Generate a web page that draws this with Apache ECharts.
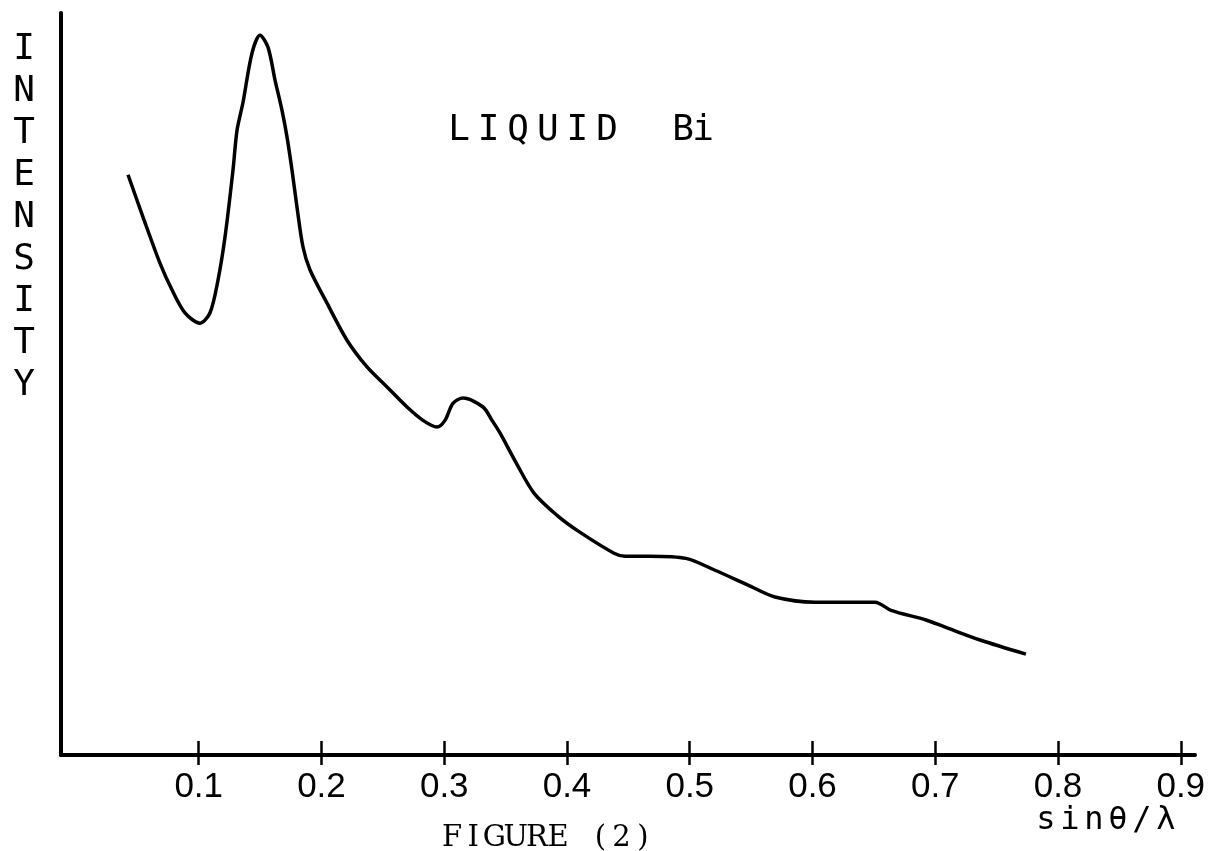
<!DOCTYPE html>
<html>
<head>
<meta charset="utf-8">
<title>LIQUID Bi</title>
<script src="https://cdn.jsdelivr.net/npm/echarts@6/dist/echarts.min.js"></script>
<style>
  html, body { margin: 0; padding: 0; background: #fff; }
  #chart { width: 1212px; height: 851px; }
</style>
</head>
<body>
<div id="chart"></div>
<script>
// Scattered intensity of liquid bismuth against sinθ/λ (arbitrary intensity units)
const sinThetaOverLambda = [
  0.0424, 0.0546, 0.0684, 0.0782, 0.0888, 0.1010, 0.1092, 0.1157, 0.1214, 0.1279,
  0.1312, 0.1360, 0.1434, 0.1499, 0.1564, 0.1621, 0.1678, 0.1719, 0.1760, 0.1800,
  0.1849, 0.1906, 0.2045, 0.2208, 0.2371, 0.2534, 0.2697, 0.2827, 0.2941, 0.3006,
  0.3071, 0.3153, 0.3316, 0.3389, 0.3454, 0.3585, 0.3731, 0.3919, 0.4098, 0.4383,
  0.4473, 0.4676, 0.4969, 0.5206, 0.5475, 0.5694, 0.6020, 0.6509, 0.6640, 0.6925,
  0.7071, 0.7365, 0.7739
];
const intensity = [
  78.2, 72.5, 66.3, 62.7, 59.6, 58.2, 59.6, 64.0, 69.8, 78.8,
  84.2, 87.9, 94.6, 97.0, 95.4, 91.0, 86.9, 83.3, 78.8, 73.9,
  68.5, 65.4, 60.9, 55.9, 52.3, 49.6, 46.9, 45.1, 44.2, 45.1,
  47.4, 48.1, 46.9, 45.1, 43.4, 39.4, 35.3, 32.3, 30.1, 27.2,
  26.8, 26.8, 26.5, 24.9, 22.9, 21.3, 20.6, 20.6, 19.5, 18.2,
  17.3, 15.5, 13.6
];
const xTickValues = [0.1, 0.2, 0.3, 0.4, 0.5, 0.6, 0.7, 0.8, 0.9];
const xRange = [-0.0122, 0.9116];
const yRange = [0, 100];

const title = 'LIQUID Bi';
const yName = 'INTENSITY';
const xName = 'sinθ/λ';
const caption = 'FIGURE (2)';

const plotterFont = '"DejaVu Sans Mono", "Liberation Mono", monospace';
const typewriterFont = '"DejaVu Serif", "Liberation Serif", serif';

// Lay a string out one glyph at a time with an even pitch (plotter lettering)
function letters(str, x, y, pitch, fontSize, vertical, family) {
  const out = [];
  str.split('').forEach((ch, i) => {
    if (ch === ' ') return;
    out.push({
      type: 'text',
      silent: true,
      x: vertical ? x : x + i * pitch,
      y: vertical ? y + i * pitch : y,
      style: {
        text: ch,
        fill: '#000',
        fontSize: fontSize,
        fontFamily: family || plotterFont,
        align: 'center',
        verticalAlign: 'middle'
      }
    });
  });
  return out;
}

const words = title.split(' ');
const graphics = []
  .concat(letters(words[0], 459, 131, 29.6, 36, false))
  .concat(letters(words[1], 683, 131, 20, 36, false))
  .concat(letters(yName, 24, 50, 42, 36, true))
  .concat(letters(xName, 1046, 821, 24, 32, false))
  .concat(letters(caption, 452, 838, 21.2, 29, false, typewriterFont));

const chart = echarts.init(document.getElementById('chart'), null, { renderer: 'canvas' });

const baseX = {
  type: 'value',
  min: xRange[0],
  max: xRange[1],
  position: 'bottom',
  splitLine: { show: false }
};

chart.setOption({
  animation: false,
  backgroundColor: '#fff',
  grid: { left: 61, right: 17, top: 13, bottom: 96, containLabel: false },
  xAxis: [
    Object.assign({}, baseX, {
      axisLine: { show: true, onZero: false, lineStyle: { color: '#000', width: 4 } },
      axisTick: { show: true, inside: false, length: 10, customValues: xTickValues,
                  lineStyle: { color: '#000', width: 2.5 } },
      axisLabel: {
        show: true,
        customValues: xTickValues,
        margin: 15,
        color: '#000',
        fontSize: 35,
        fontFamily: '"Liberation Sans Narrow", "Liberation Sans", sans-serif',
        formatter: v => v.toFixed(1)
      }
    }),
    Object.assign({}, baseX, {
      axisLine: { show: false },
      axisTick: { show: true, inside: true, length: 14, customValues: xTickValues,
                  lineStyle: { color: '#000', width: 2.5 } },
      axisLabel: { show: false }
    })
  ],
  yAxis: {
    type: 'value',
    min: yRange[0],
    max: yRange[1],
    axisLine: { show: true, onZero: false, lineStyle: { color: '#000', width: 4 } },
    axisTick: { show: false },
    axisLabel: { show: false },
    splitLine: { show: false }
  },
  series: [{
    type: 'line',
    xAxisIndex: 0,
    data: sinThetaOverLambda.map((x, i) => [x, intensity[i]]),
    smooth: 0.3,
    showSymbol: false,
    symbol: 'none',
    lineStyle: { color: '#000', width: 3.5 },
    silent: true
  }],
  graphic: graphics
});
</script>
</body>
</html>
